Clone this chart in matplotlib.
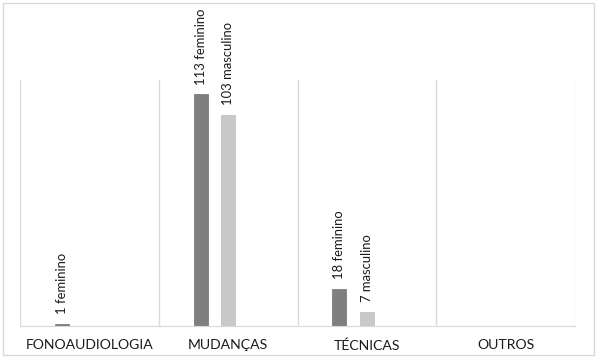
"""Bar chart: feminino / masculino counts per category."""

import matplotlib
matplotlib.use("Agg")
import matplotlib.pyplot as plt
import numpy as np
from matplotlib.patches import Rectangle

categories = ["FONOAUDIOLOGIA", "MUDANÇAS", "TÉCNICAS", "OUTROS"]
feminino = [1, 113, 18, 0]
masculino = [0, 103, 7, 0]

plt.rcParams["font.family"] = ["Lato", "DejaVu Sans"]

fig = plt.figure(figsize=(6.0, 3.61), dpi=100)
ax = fig.add_axes([20 / 600, 1 - 326 / 361, 555 / 600, 246 / 361])

x = np.arange(len(categories))
width = 0.1
offset = 0.198

ax.bar(x - offset, feminino, width, color="#7f7f7f", edgecolor="#707070", linewidth=0.5)
ax.bar(x, masculino, width, color="#c8c8c8", edgecolor="#bdbdbd", linewidth=0.5)

for xi, v in zip(x, feminino):
    if v > 0:
        ax.annotate(f"{v} feminino", (xi - offset, v), xytext=(0, 7),
                    textcoords="offset points", rotation=90, ha="center",
                    va="bottom", fontsize=9.4, color="#1a1a1a")
for xi, v in zip(x, masculino):
    if v > 0:
        ax.annotate(f"{v} masculino", (xi, v), xytext=(0, 7),
                    textcoords="offset points", rotation=90, ha="center",
                    va="bottom", fontsize=9.4, color="#1a1a1a")

for b in np.arange(len(categories) + 1) - 0.5:
    ax.axvline(b, color="#d9d9d9", linewidth=1, zorder=0)

ax.set_xlim(-0.5, len(categories) - 0.5)
ax.set_ylim(0, 120)
ax.set_xticks(x)
ax.set_xticklabels(categories, fontsize=10.1, color="#1a1a1a")
ax.tick_params(axis="x", length=0, pad=9.5)
ax.set_yticks([])
for s in ["top", "left", "right"]:
    ax.spines[s].set_visible(False)
ax.spines["bottom"].set_color("#d9d9d9")

fig.patches.append(Rectangle((3 / 600, 1 - 355 / 361), 591 / 600, 352 / 361,
                             transform=fig.transFigure, fill=False,
                             edgecolor="#d9d9d9", linewidth=1))

fig.savefig("out.png", dpi=100)
